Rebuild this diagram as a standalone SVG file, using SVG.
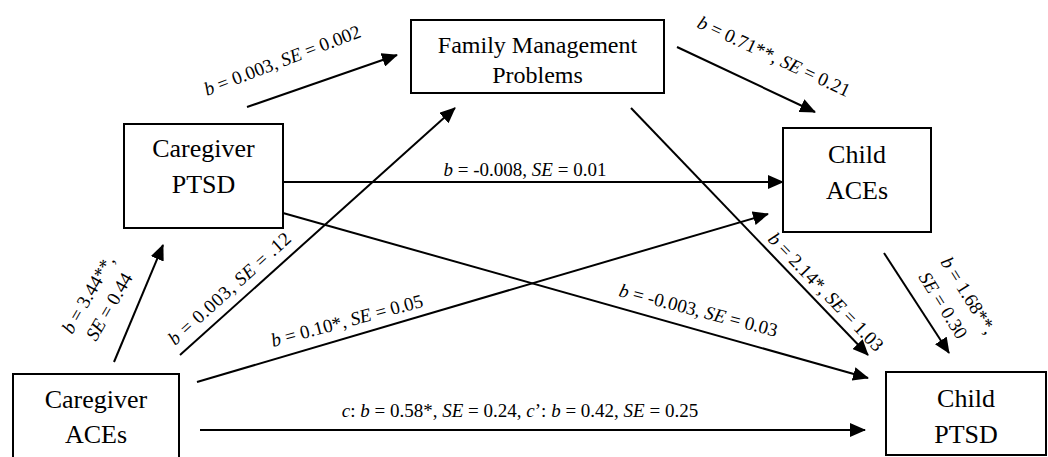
<svg xmlns="http://www.w3.org/2000/svg" width="1048" height="457" viewBox="0 0 1048 457">
<style>
.box{fill:#fff;stroke:#000;stroke-width:2}
.nt{fill:#000;text-anchor:middle}
.lb{font-size:19px;fill:#000}
.i{font-style:italic}
.ln{stroke:#000;stroke-width:2;fill:none;marker-end:url(#ah)}
</style>
<defs>
<marker id="ah" markerUnits="userSpaceOnUse" markerWidth="16" markerHeight="14" refX="15" refY="7" orient="auto">
<path d="M0,0 L16,7 L0,14 z" fill="#000"/>
</marker>
</defs>
<rect width="1048" height="457" fill="#fff"/>
<g font-family="Liberation Serif, Times New Roman, Tinos, DejaVu Serif, serif">
<g id="connectors">
<line class="ln" x1="247" y1="107" x2="397" y2="55"/>
<line class="ln" x1="677" y1="47" x2="815" y2="112"/>
<line class="ln" x1="283" y1="182" x2="783" y2="182"/>
<line class="ln" x1="283" y1="213" x2="868" y2="378"/>
<line class="ln" x1="631" y1="108" x2="868" y2="355"/>
<line class="ln" x1="884" y1="253" x2="949" y2="353"/>
<line class="ln" x1="114" y1="362" x2="163" y2="245"/>
<line class="ln" x1="180" y1="355" x2="455" y2="108"/>
<line class="ln" x1="197" y1="382" x2="768" y2="214"/>
<line class="ln" x1="200" y1="430" x2="865" y2="430"/>
</g>
<g id="labels">
<text class="lb" transform="translate(207,96) rotate(-21)"><tspan class="i">b</tspan> = 0.003, <tspan class="i">SE</tspan> = 0.002</text>
<text class="lb" transform="translate(696,27) rotate(25)"><tspan class="i">b</tspan> = 0.71**, <tspan class="i">SE</tspan> = 0.21</text>
<text class="lb" x="525" y="176" text-anchor="middle"><tspan class="i">b</tspan> = -0.008, <tspan class="i">SE</tspan> = 0.01</text>
<text class="lb" transform="translate(618,296) rotate(14.5)"><tspan class="i">b</tspan> = -0.003, <tspan class="i">SE</tspan> = 0.03</text>
<text class="lb" transform="translate(767,240) rotate(46)"><tspan class="i">b</tspan> = 2.14*, <tspan class="i">SE</tspan> = 1.03</text>
<text class="lb" transform="translate(940,262) rotate(58)"><tspan class="i">b</tspan> = 1.68**,</text>
<text class="lb" transform="translate(918,277) rotate(58)"><tspan class="i">SE</tspan> = 0.30</text>
<text class="lb" transform="translate(72,335) rotate(-60)"><tspan class="i">b</tspan> = 3.44**,</text>
<text class="lb" transform="translate(96,342) rotate(-60)"><tspan class="i">SE</tspan> = 0.44</text>
<text class="lb" transform="translate(175,346) rotate(-42)" textLength="158" lengthAdjust="spacing"><tspan class="i">b</tspan> = 0.003, <tspan class="i">SE</tspan> = .12</text>
<text class="lb" transform="translate(273,347) rotate(-15)"><tspan class="i">b</tspan> = 0.10*, <tspan class="i">SE</tspan> = 0.05</text>
<text class="lb" x="520" y="417" text-anchor="middle"><tspan class="i">c</tspan>: <tspan class="i">b</tspan> = 0.58*, <tspan class="i">SE</tspan> = 0.24, <tspan class="i">c</tspan>’: <tspan class="i">b</tspan> = 0.42, <tspan class="i">SE</tspan> = 0.25</text>
</g>
<g id="fmp">
<rect class="box" x="411" y="20" width="253" height="73"/>
<text class="nt" font-size="24" x="537.5" y="53">Family Management</text>
<text class="nt" font-size="24" x="537.5" y="83">Problems</text>
</g>
<g id="caregiver-ptsd">
<rect class="box" x="124" y="124" width="159" height="104"/>
<text class="nt" font-size="26" x="203.5" y="157">Caregiver</text>
<text class="nt" font-size="26" x="203.5" y="193">PTSD</text>
</g>
<g id="child-aces">
<rect class="box" x="783" y="128" width="148" height="104"/>
<text class="nt" font-size="26" x="857" y="163">Child</text>
<text class="nt" font-size="26" x="857" y="199">ACEs</text>
</g>
<g id="child-ptsd">
<rect class="box" x="886" y="372" width="160" height="83"/>
<text class="nt" font-size="26" x="966" y="407">Child</text>
<text class="nt" font-size="26" x="966" y="443">PTSD</text>
</g>
<g id="caregiver-aces">
<rect class="box" x="13" y="374" width="166" height="90"/>
<text class="nt" font-size="26" x="96" y="408">Caregiver</text>
<text class="nt" font-size="26" x="96" y="443">ACEs</text>
</g>
</g>
</svg>
